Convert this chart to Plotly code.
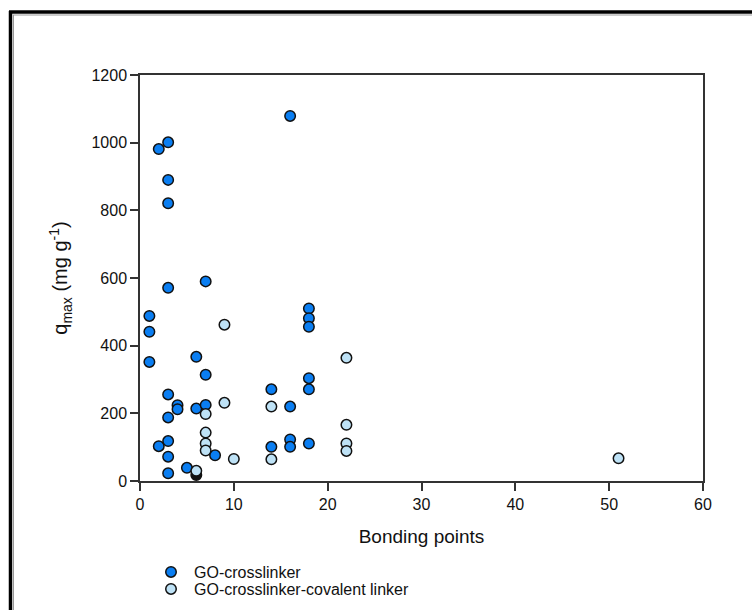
import plotly.graph_objects as go

# Adsorption capacity versus number of bonding points
go_crosslinker_x = [1, 1, 1, 2, 2, 3, 3, 3, 3, 3, 3, 3, 3, 3, 4, 4, 5, 6, 6, 7, 7, 7, 8,
                    14, 14, 16, 16, 16, 16, 18, 18, 18, 18, 18, 18]
go_crosslinker_y = [488, 441, 352, 981, 103, 1001, 890, 821, 571, 256, 188, 118, 72, 23,
                    224, 212, 39, 367, 214, 590, 314, 225, 76,
                    271, 101, 1079, 220, 123, 101, 510, 481, 456, 304, 271, 111]

covalent_x = [6, 7, 7, 7, 7, 9, 9, 10, 14, 14, 22, 22, 22, 22, 51]
covalent_y = [30, 198, 143, 111, 90, 462, 231, 65, 220, 64, 364, 166, 111, 89, 67]

other_x = [6]
other_y = [18]

x_ticks = [0, 10, 20, 30, 40, 50, 60]
y_ticks = [0, 200, 400, 600, 800, 1000, 1200]

FONT = "Liberation Sans, Arial, sans-serif"
TEXT = "#111111"
marker_line = dict(color="#111111", width=1.5)

fig = go.Figure()
fig.add_trace(go.Scatter(
    x=go_crosslinker_x, y=go_crosslinker_y, mode="markers", name="GO-crosslinker",
    legend="legend",
    marker=dict(size=10.5, color="#0A7EF2", line=marker_line), cliponaxis=False))
fig.add_trace(go.Scatter(
    x=other_x, y=other_y, mode="markers", showlegend=False,
    marker=dict(size=10.5, color="#111111", line=marker_line), cliponaxis=False))
fig.add_trace(go.Scatter(
    x=covalent_x, y=covalent_y, mode="markers", name="GO-crosslinker-covalent linker",
    legend="legend2",
    marker=dict(size=10.5, color="#BEE2F6", line=marker_line), cliponaxis=False))

axis_common = dict(
    showline=True, linecolor="#333333", linewidth=1.5, mirror=True,
    ticks="outside", ticklen=8, tickwidth=1.5, tickcolor="#333333",
    showgrid=False, zeroline=False,
    tickfont=dict(family=FONT, size=16, color=TEXT),
)

fig.update_xaxes(range=[0, 60], tickvals=x_ticks,
                 title=dict(text="Bonding points", font=dict(family=FONT, size=19, color=TEXT),
                            standoff=18),
                 **axis_common)
fig.update_yaxes(range=[0, 1200], tickvals=y_ticks,
                 title=dict(text="q<sub>max</sub> (mg g<sup>-1</sup>)",
                            font=dict(family=FONT, size=20, color=TEXT), standoff=18),
                 **axis_common)

# Outer frame: heavy black border along the top and left edges with a thin grey inner line
L, R, T, B = 140, 49, 75, 129
W, H = 752, 610
pw, ph = W - L - R, H - T - B
def px(xp):
    return (xp - L) / pw
def py(yp):
    return (H - B - yp) / ph

shapes = [
    dict(type="line", xref="paper", yref="paper", x0=px(9), x1=px(760), y0=py(12), y1=py(12),
         line=dict(color="black", width=3.5)),
    dict(type="line", xref="paper", yref="paper", x0=px(10.5), x1=px(10.5), y0=py(11), y1=py(620),
         line=dict(color="black", width=3.5)),
    dict(type="line", xref="paper", yref="paper", x0=px(13), x1=px(760), y0=py(15), y1=py(15),
         line=dict(color="#999999", width=1)),
    dict(type="line", xref="paper", yref="paper", x0=px(13.5), x1=px(13.5), y0=py(15), y1=py(620),
         line=dict(color="#999999", width=1)),
]

legend_style = dict(xanchor="left", yanchor="middle", bgcolor="rgba(0,0,0,0)",
                    font=dict(family=FONT, size=16, color=TEXT), itemwidth=36)

fig.update_layout(
    width=W, height=H,
    margin=dict(l=L, r=R, t=T, b=B, autoexpand=False),
    paper_bgcolor="white", plot_bgcolor="white",
    shapes=shapes,
    showlegend=True,
    legend=dict(x=px(148), y=py(572), **legend_style),
    legend2=dict(x=px(148), y=py(589), **legend_style),
)

fig.write_html("out.html")
